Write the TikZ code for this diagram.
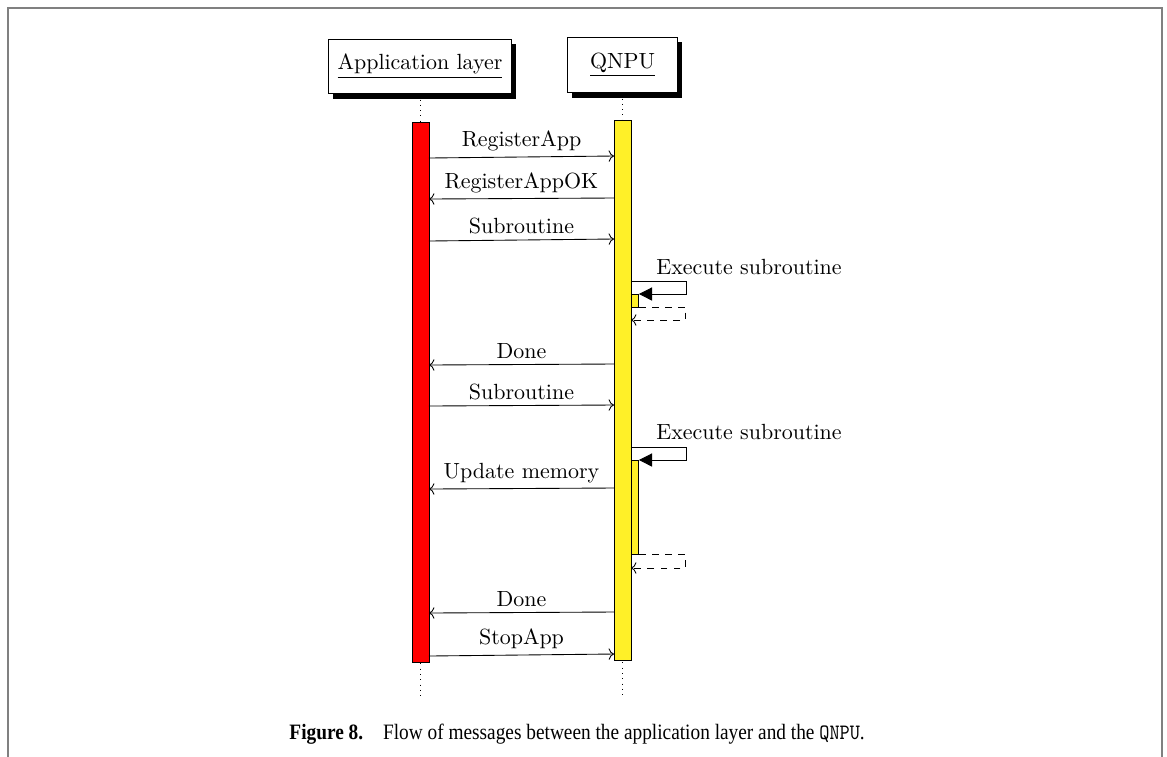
\documentclass[tikz,border=0pt]{standalone}
\usepackage{fontspec}
\newfontfamily\capfont{Liberation Serif}
\usetikzlibrary{shadows,arrows.meta,positioning,calc}

\definecolor{qyellow}{RGB}{255,240,40}
\definecolor{framegray}{RGB}{128,128,128}

\tikzset{
  inststyle/.style={rectangle, draw, fill=white, inner sep=0pt, drop shadow={opacity=1,fill=black}},
  lifeline/.style={dotted},
  appbar/.style={rectangle, draw, fill=red, inner sep=0pt, outer sep=0pt},
  qnpubar/.style={rectangle, draw, fill=qyellow, inner sep=0pt, outer sep=0pt},
  msg/.style={->},
  selfcall/.style={-{Triangle[length=6pt,width=6pt]}},
  callret/.style={dashed,->},
  msglabel/.style={midway,above,inner sep=2.5pt}
}

\begin{document}
\begin{tikzpicture}[x=0.016cm,y=-0.016cm]
\useasboundingbox (0,0) rectangle (1167,756);
\draw[framegray, line width=1pt] (8,770) -- (8,8) -- (1162,8) -- (1162,770);

% instances
\node[inststyle, minimum width=83.4pt, minimum height=24.9pt] (app) at (420,66.5) {\underline{Application layer}};
\node[inststyle, minimum width=50.3pt, minimum height=25.4pt] (qnpu) at (622.5,65) {\underline{QNPU}};

% lifelines
\coordinate (append) at (420,697);
\coordinate (qnpuend) at (622,697);
\draw[lifeline] (app) -- (append);
\draw[lifeline] (qnpu.south -| qnpuend) -- (qnpuend);

% activations
\node[appbar, minimum width=7.7pt, minimum height=246.3pt, anchor=north] (appact) at (420.5,122) {};
\node[qnpubar, minimum width=7.7pt, minimum height=246.3pt, anchor=north] (qnpuact) at (622.5,120) {};
\node[qnpubar, minimum width=3.6pt, minimum height=5.9pt, anchor=north west] (exec1) at (631,294) {};
\node[qnpubar, minimum width=3.6pt, minimum height=43.1pt, anchor=north west] (exec2) at (631,460) {};

% messages
\draw[msg] (appact.east |- 0,158) -- (qnpuact.west |- 0,156) node[msglabel] {RegisterApp};
\draw[msg] (qnpuact.west |- 0,198) -- (appact.east |- 0,199) node[msglabel] {RegisterAppOK};
\draw[msg] (appact.east |- 0,241) -- (qnpuact.west |- 0,239) node[msglabel] {Subroutine};

% first subroutine call
\node (exec1lbl) at (749,267) {Execute subroutine};
\draw[selfcall] (qnpuact.east |- 0,281) -- ++(55,0) |- (exec1.north east);
\draw[callret] (exec1.south east) -- ++(47,0) |- (qnpuact.east |- 0,320);

\draw[msg] (qnpuact.west |- 0,364) -- (appact.east |- 0,365) node[msglabel] {Done};
\draw[msg] (appact.east |- 0,406) -- (qnpuact.west |- 0,405) node[msglabel] {Subroutine};

% second subroutine call
\node (exec2lbl) at (749,432) {Execute subroutine};
\draw[selfcall] (qnpuact.east |- 0,447) -- ++(55,0) |- (exec2.north east);
\draw[msg] (qnpuact.west |- 0,488) -- (appact.east |- 0,489) node[msglabel] {Update memory};
\draw[callret] (exec2.south east) -- ++(47,0) |- (qnpuact.east |- 0,568);

\draw[msg] (qnpuact.west |- 0,612) -- (appact.east |- 0,613) node[msglabel] {Done};
\draw[msg] (appact.east |- 0,656) -- (qnpuact.west |- 0,654) node[msglabel] {StopApp};

% caption
\node[anchor=base west, inner sep=0pt] (caption) at (289,739) {\scalebox{0.88}[1]{\capfont\fontsize{10}{12}\selectfont\textbf{Figure 8.}\hspace{7pt} Flow of messages between the application layer and the \texttt{QNPU}.}};
\end{tikzpicture}
\end{document}
